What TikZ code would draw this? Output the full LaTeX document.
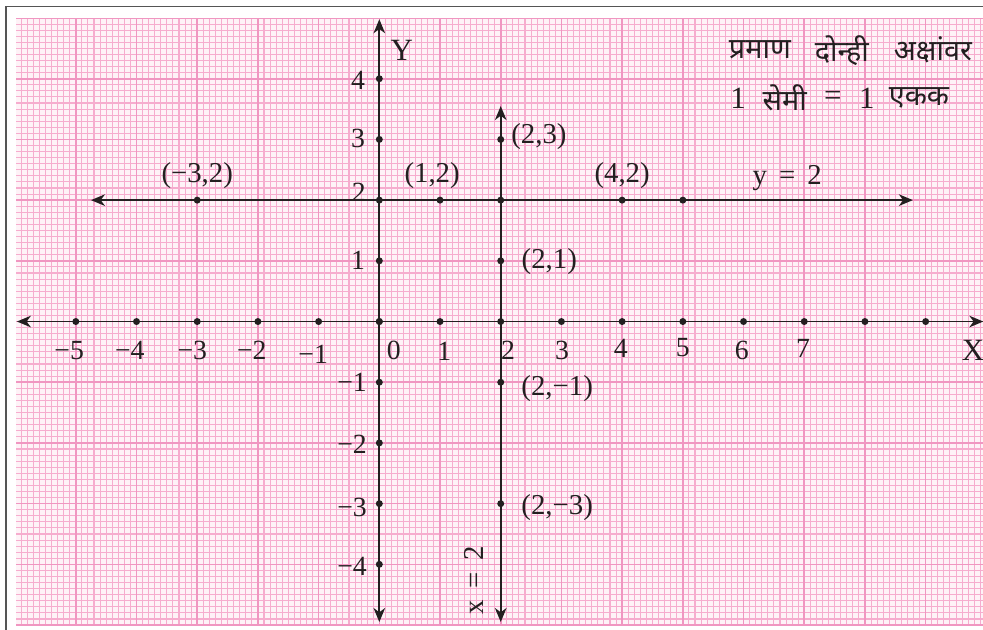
\documentclass[tikz,border=0pt]{standalone}
\usepackage{fontspec}
\setmainfont{Liberation Serif}
\newfontfamily\deva[Script=Devanagari]{Noto Sans}
\usetikzlibrary{arrows.meta}
\definecolor{ink}{RGB}{35,31,32}
\definecolor{paper}{RGB}{254,242,247}
\definecolor{gridminor}{RGB}{246,172,206}
\definecolor{gridmajor}{RGB}{240,150,193}
\definecolor{framegray}{RGB}{85,85,85}
\begin{document}
\begin{tikzpicture}[
  tip/.tip={Stealth[length=2.3mm,width=1.9mm,inset=0.7mm]},
  axisline/.style={line width=0.9pt, draw=ink, tip-tip},
  dot/.style={circle, fill=ink, inner sep=0pt, minimum size=0.115cm},
  minorgrid/.style={draw=gridminor, line width=0.5pt},
  majorgrid/.style={draw=gridmajor, line width=0.75pt},
  framestyle/.style={draw=framegray, line width=0.8pt},
  ticklab/.style={font=\fontsize{13}{15}\selectfont, text=ink, inner sep=0pt},
  ptlab/.style={font=\fontsize{13.5}{15}\selectfont, text=ink, inner sep=0pt},
  axlab/.style={font=\fontsize{14.5}{16}\selectfont, text=ink, inner sep=0pt},
  hindi/.style={font=\deva\fontsize{13.5}{15}\selectfont, text=ink, inner sep=0pt},
  hnum/.style={font=\fontsize{14.5}{16}\selectfont, text=ink, inner sep=0pt}
]
\useasboundingbox (-6.249,-5.08) rectangle (9.945,5.297);
\fill[white] (-6.249,-5.08) rectangle (9.945,5.297);
% graph paper
\begin{scope}
  \clip (-5.985,-5.0) rectangle (9.95,5.0);
  \fill[paper] (-6,-5) rectangle (10,5);
  \draw[minorgrid] (-6,-5) grid[step=0.1] (10,5);
  \draw[majorgrid] (-6,-5) grid[step=1] (10,5);
\end{scope}
% frame
\coordinate (fb) at (-6.15,-5.08);
\coordinate (ftl) at (-6.15,5.19);
\coordinate (ftr) at (9.945,5.19);
\draw[framestyle] (fb) -- (ftl) -- (ftr);
% axes and lines
\coordinate (xl) at (-5.97,0);
\coordinate (xr) at (9.95,0);
\coordinate (yt) at (0,4.98);
\coordinate (yb) at (0,-4.95);
\coordinate (lt) at (2,3.55);
\coordinate (lb) at (2,-4.95);
\coordinate (hl) at (-4.75,2);
\coordinate (hr) at (8.79,2);
\draw[axisline] (xl) -- (xr);
\draw[axisline] (yb) -- (yt);
\draw[axisline] (lb) -- (lt);
\draw[axisline] (hl) -- (hr);
% dots on x axis
\foreach \i in {-5,...,9} { \node[dot] (xd\i) at (\i,0) {}; }
% dots on y axis
\foreach \j in {-4,...,4} { \node[dot] (yd\j) at (0,\j) {}; }
% dots on x = 2
\foreach \j in {3,1,-1,-3} { \node[dot] (vd\j) at (2,\j) {}; }
% dots on y = 2
\foreach \i in {-3,1,4,5} { \node[dot] (hd\i) at (\i,2) {}; }
\node[dot] (p22) at (2,2) {};
% x tick labels
\node[ticklab] (lxm5) at (-5.11,-0.47) {−5};
\node[ticklab] (lxm4) at (-4.11,-0.47) {−4};
\node[ticklab] (lxm3) at (-3.08,-0.47) {−3};
\node[ticklab] (lxm2) at (-2.10,-0.47) {−2};
\node[ticklab] (lxm1) at (-1.09,-0.54) {−1};
\node[ticklab] (lx0) at (0.24,-0.47) {0};
\node[ticklab] (lx1) at (1.07,-0.49) {1};
\node[ticklab] (lx2) at (2.12,-0.47) {2};
\node[ticklab] (lx3) at (3.01,-0.47) {3};
\node[ticklab] (lx4) at (3.98,-0.45) {4};
\node[ticklab] (lx5) at (5.00,-0.43) {5};
\node[ticklab] (lx6) at (5.97,-0.47) {6};
\node[ticklab] (lx7) at (6.98,-0.45) {7};
% y tick labels
\node[ticklab] (ly4) at (-0.35,3.98) {4};
\node[ticklab] (ly3) at (-0.35,3.02) {3};
\node[ticklab] (ly2) at (-0.34,2.13) {2};
\node[ticklab] (ly1) at (-0.35,1.00) {1};
\node[ticklab] (lym1) at (-0.45,-1.01) {−1};
\node[ticklab] (lym2) at (-0.45,-2.03) {−2};
\node[ticklab] (lym3) at (-0.45,-3.07) {−3};
\node[ticklab] (lym4) at (-0.45,-4.04) {−4};
% axis names
\node[axlab] (Y) at (0.37,4.46) {Y};
\node[axlab] (X) at (9.78,-0.47) {X};
% point labels
\node[ptlab] (lm32) at (-3.0,2.40) {(−3,2)};
\node[ptlab] (l12) at (0.87,2.41) {(1,2)};
\node[ptlab] (l42) at (4.0,2.40) {(4,2)};
\node[ptlab] (l23) at (2.63,3.04) {(2,3)};
\node[ptlab] (l21) at (2.80,0.99) {(2,1)};
\node[ptlab] (l2m1) at (2.93,-1.11) {(2,−1)};
\node[ptlab] (l2m3) at (2.93,-3.06) {(2,−3)};
\node[ptlab] (ly2eq) at (6.72,2.37) {y \,=\, 2};
\node[ptlab, rotate=90] (lx2eq) at (1.56,-4.26) {x \,=\, 2};
% scale note
\node[hindi] (h1) at (6.27,4.47) {प्रमाण};
\node[hindi] (h2) at (7.62,4.47) {दोन्ही};
\node[hindi] (h3) at (9.12,4.47) {अक्षांवर};
\node[hnum] (n1) at (5.91,3.68) {1};
\node[hindi] (h4) at (6.68,3.68) {सेमी};
\node[hnum] (neq) at (7.47,3.68) {=};
\node[hnum] (n2) at (8.03,3.68) {1};
\node[hindi] (h5) at (8.89,3.68) {एकक};
\end{tikzpicture}
\end{document}
